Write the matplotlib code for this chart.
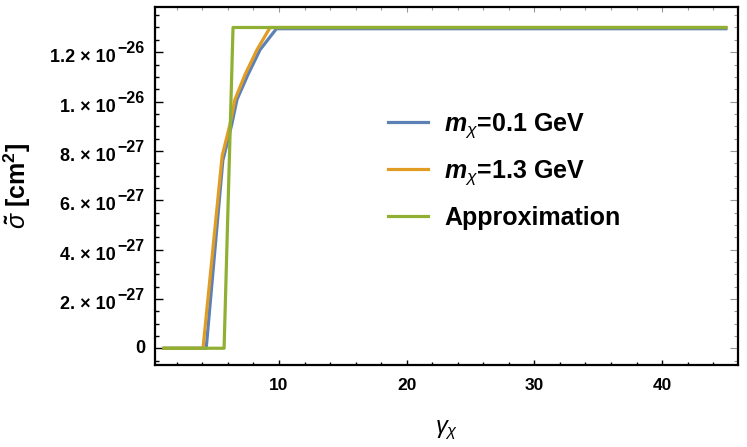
import numpy as np
import matplotlib
matplotlib.use("Agg")
import matplotlib.pyplot as plt
from matplotlib.ticker import MultipleLocator
from matplotlib.transforms import blended_transform_factory, offset_copy

plt.rcParams['font.family'] = ['Liberation Sans', 'DejaVu Sans']
plt.rcParams['mathtext.fontset'] = 'custom'
plt.rcParams['mathtext.rm'] = 'Liberation Sans:bold'
plt.rcParams['mathtext.bf'] = 'Liberation Sans:bold'
plt.rcParams['mathtext.it'] = 'Liberation Sans:italic'
plt.rcParams['mathtext.bfit'] = 'Liberation Sans:italic:bold'

# gamma_chi vs effective cross section (in cm^2)
gamma_01 = [1, 4.3, 5.6, 6.3, 6.71, 7.57, 8.52, 9.8, 45]
sigma_01 = [0, 0, 7.6e-27, 9.07e-27, 1.008e-26, 1.109e-26, 1.21e-26, 1.295e-26, 1.295e-26]

gamma_13 = [1, 4.05, 5.55, 6.16, 6.55, 7.34, 8.28, 9.3, 45]
sigma_13 = [0, 0, 7.8e-27, 9.07e-27, 1.008e-26, 1.109e-26, 1.21e-26, 1.3e-26, 1.3e-26]

gamma_approx = [1, 5.7, 6.4, 45]
sigma_approx = [0, 0, 1.3e-26, 1.3e-26]

labels = [r'$\mathbfit{m}_\chi$=0.1 GeV', r'$\mathbfit{m}_\chi$=1.3 GeV', 'Approximation']
colors = ['#5E81B5', '#E19C24', '#8FB032']

ytick_vals = [0, 2e-27, 4e-27, 6e-27, 8e-27, 1e-26, 1.2e-26]
ytick_base = ['0', '2. × 10', '4. × 10', '6. × 10', '8. × 10', '1. × 10', '1.2 × 10']
ytick_exp = [None, '\u221227', '\u221227', '\u221227', '\u221227', '\u221226', '\u221226']
xtick_vals = [10, 20, 30, 40]

fig = plt.figure(figsize=(7.47, 4.47), dpi=100)
ax = fig.add_axes([0.2075, 0.1834, 0.7805, 0.8009])

ax.plot(gamma_01, sigma_01, color=colors[0], lw=2.3, label=labels[0])
ax.plot(gamma_13, sigma_13, color=colors[1], lw=2.3, label=labels[1])
ax.plot(gamma_approx, sigma_approx, color=colors[2], lw=2.3, label=labels[2])

ax.set_xlim(0.29, 45.95)
ax.set_ylim(-0.068e-26, 1.383e-26)

ax.set_xticks(xtick_vals)
ax.set_xticklabels([str(v) for v in xtick_vals], fontweight='bold', fontsize=12.5)
ax.xaxis.set_minor_locator(MultipleLocator(2))
ax.set_yticks(ytick_vals)
ax.yaxis.set_minor_locator(MultipleLocator(0.5e-27))

ax.tick_params(axis='both', which='both', direction='in', labelleft=False)
ax.tick_params(axis='x', which='major', length=3.5, width=1, pad=9)
ax.tick_params(axis='x', which='minor', length=2, width=1)
ax.tick_params(axis='y', which='major', length=5.5, width=1)
ax.tick_params(axis='y', which='minor', length=3, width=1)
for s in ax.spines.values():
    s.set_linewidth(1.6)

# lighter ticks on the top and right frame edges
top = ax.secondary_xaxis('top')
top.set_xticks(xtick_vals)
top.xaxis.set_minor_locator(MultipleLocator(2))
top.tick_params(which='both', direction='in', labeltop=False, color='#999999', width=0.8)
top.tick_params(which='major', length=3.5)
top.tick_params(which='minor', length=2)
top.spines['top'].set_visible(False)
right = ax.secondary_yaxis('right')
right.set_yticks(ytick_vals)
right.yaxis.set_minor_locator(MultipleLocator(0.5e-27))
right.tick_params(which='both', direction='in', labelright=False, color='#999999', width=0.8)
right.tick_params(which='major', length=5.5)
right.tick_params(which='minor', length=3)
right.spines['right'].set_visible(False)

# Mathematica-style y tick labels: mantissa x 10 with a large exponent
trans = blended_transform_factory(ax.transAxes, ax.transData)
for v, base, ex in zip(ytick_vals, ytick_base, ytick_exp):
    if ex is None:
        ax.text(0, v, base, transform=offset_copy(trans, fig=fig, x=-10, y=0, units='dots'),
                ha='right', va='center', fontsize=13, fontweight='bold')
    else:
        ax.text(0, v, base, transform=offset_copy(trans, fig=fig, x=-39, y=-10, units='dots'),
                ha='right', va='baseline', fontsize=13, fontweight='bold')
        ax.text(0, v, ex, transform=offset_copy(trans, fig=fig, x=-38, y=-1, units='dots'),
                ha='left', va='baseline', fontsize=11.5, fontweight='bold')

ax.set_xlabel(r'$\gamma_\chi$', fontsize=17)
ax.xaxis.set_label_coords(0.5, -0.15)
ax.set_ylabel(r'$\tilde{\sigma}$ [cm$^{2}$]', fontsize=18, fontweight='bold')
ax.yaxis.set_label_coords(-0.209, 0.5)

ax.legend(loc='upper left', bbox_to_anchor=(388 / 747, 1 - 111 / 447),
          bbox_transform=fig.transFigure, frameon=False,
          handlelength=1.6, handletextpad=0.64, labelspacing=0.75,
          borderpad=0, borderaxespad=0, prop={'weight': 'bold', 'size': 18})

fig.savefig('out.png', dpi=100)
